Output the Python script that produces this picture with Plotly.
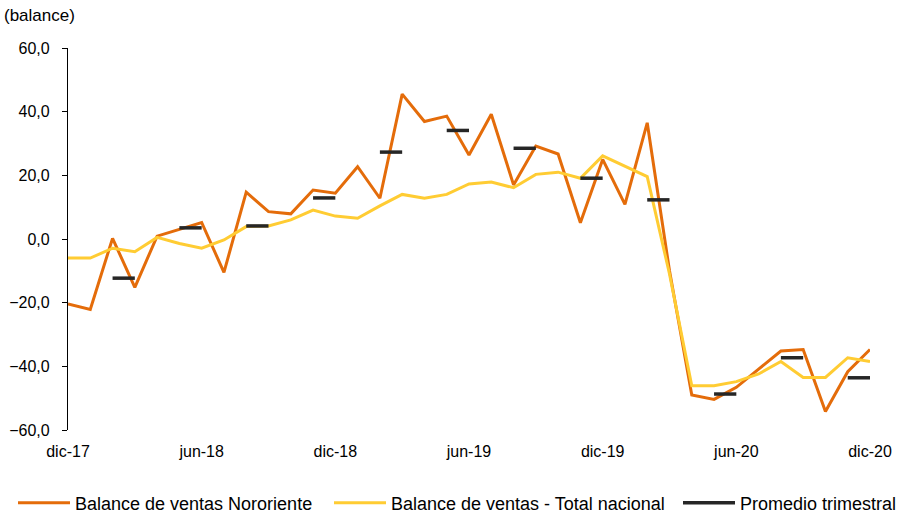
import plotly.graph_objects as go

meses = ["dic-17", "ene-18", "feb-18", "mar-18", "abr-18", "may-18", "jun-18", "jul-18", "ago-18", "sep-18",
         "oct-18", "nov-18", "dic-18", "ene-19", "feb-19", "mar-19", "abr-19", "may-19", "jun-19", "jul-19",
         "ago-19", "sep-19", "oct-19", "nov-19", "dic-19", "ene-20", "feb-20", "mar-20", "abr-20", "may-20",
         "jun-20", "jul-20", "ago-20", "sep-20", "oct-20", "nov-20", "dic-20"]

nororiente = [-20.4, -22.1, 0.2, -15.2, 0.9, 3.0, 5.2, -10.5, 14.7, 8.6, 7.9, 15.4, 14.4,
              22.7, 12.8, 45.5, 36.9, 38.6, 26.4, 39.2, 17.0, 29.2, 26.7, 5.1, 25.0,
              10.9, 36.5, -10.0, -49.0, -50.4, -46.6, -40.9, -35.2, -34.7, -54.2, -41.7, -34.7]

nacional = [-6.0, -6.0, -2.9, -4.0, 0.5, -1.4, -2.9, -0.3, 3.9, 4.1, 6.0, 9.1, 7.2,
            6.5, 10.4, 14.0, 12.8, 14.0, 17.3, 17.9, 16.1, 20.3, 21.0, 19.1, 26.1,
            22.9, 19.6, -11.0, -46.1, -46.1, -44.8, -42.4, -38.5, -43.5, -43.5, -37.3, -38.5]

# quarterly average, drawn over the last two months of each quarter
trimestre_fin = ["mar-18", "jun-18", "sep-18", "dic-18", "mar-19", "jun-19", "sep-19", "dic-19",
                 "mar-20", "jun-20", "sep-20", "dic-20"]
promedio_trimestral = [-12.3, 3.5, 4.1, 12.9, 27.3, 34.1, 28.5, 19.1, 12.3, -48.7, -37.3, -43.6]

tick_meses = ["dic-17", "jun-18", "dic-18", "jun-19", "dic-19", "jun-20", "dic-20"]

idx = {m: i for i, m in enumerate(meses)}
x_idx = list(range(len(meses)))

prom_x, prom_y = [], []
for m, v in zip(trimestre_fin, promedio_trimestral):
    e = idx[m]
    prom_x += [e - 1, e, None]
    prom_y += [v, v, None]

tickvals = [idx[m] for m in tick_meses]

FONT = "Liberation Sans, Arial, sans-serif"

fig = go.Figure()
fig.add_trace(go.Scatter(x=x_idx, y=nororiente, mode="lines", name="Balance de ventas Nororiente",
                         line=dict(color="#E46C0A", width=3), legend="legend"))
fig.add_trace(go.Scatter(x=x_idx, y=nacional, mode="lines", name="Balance de ventas - Total nacional",
                         line=dict(color="#FFCC33", width=3), legend="legend2"))
fig.add_trace(go.Scatter(x=prom_x, y=prom_y, mode="lines", name="Promedio trimestral",
                         line=dict(color="#262626", width=3.5), connectgaps=False, legend="legend3"))


def leg(xpx):
    return dict(orientation="h", xref="container", yref="container",
                x=xpx / 909, xanchor="left", y=0.025, yanchor="middle",
                font=dict(size=18, family=FONT, color="black"), itemwidth=52,
                borderwidth=0, bgcolor="rgba(0,0,0,0)")


fig.update_layout(
    width=909, height=516,
    margin=dict(l=68, r=39, t=48, b=86, autoexpand=False),
    paper_bgcolor="white", plot_bgcolor="white",
    separators=",.",
    font=dict(family=FONT, size=16, color="black"),
    showlegend=True,
    legend=leg(13), legend2=leg(329), legend3=leg(678),
    xaxis=dict(range=[0, 36], tickmode="array", tickvals=tickvals, ticktext=tick_meses,
               showline=False, showgrid=False, zeroline=False, ticks="",
               ticklabelstandoff=10, tickfont=dict(size=16)),
    xaxis2=dict(range=[0, 36], overlaying="x", anchor="free", position=0.5, side="bottom",
                tickmode="array", tickvals=tickvals, showticklabels=False,
                showline=True, linecolor="black", linewidth=1.3,
                ticks="inside", ticklen=5, tickcolor="black", tickwidth=1.3,
                showgrid=False, zeroline=False),
    yaxis=dict(range=[-60, 60], dtick=20, tickformat=".1f", showgrid=False, zeroline=False,
               showline=True, linecolor="black", linewidth=1.3,
               ticks="outside", ticklen=5, tickcolor="black", tickwidth=1.3,
               tickfont=dict(size=16), ticklabelstandoff=9),
    annotations=[dict(text="(balance)", xref="paper", yref="paper", x=0, y=1,
                      xanchor="left", yanchor="middle", xshift=-66, yshift=33,
                      showarrow=False, font=dict(size=17, family=FONT, color="black"))],
)

fig.write_html("out.html", config={"displayModeBar": False},
               post_script="document.body.style.margin='0';")
